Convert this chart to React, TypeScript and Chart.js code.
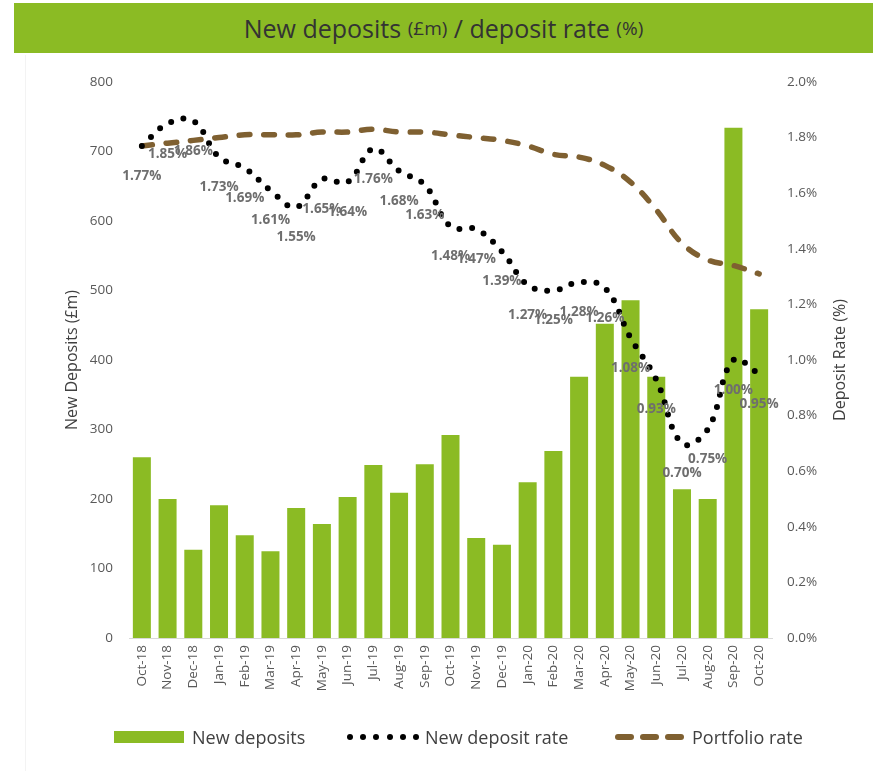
import React, { useEffect, useRef } from 'react';
import { Chart, registerables } from 'chart.js';

Chart.register(...registerables);

const months = [
  'Oct-18', 'Nov-18', 'Dec-18', 'Jan-19', 'Feb-19', 'Mar-19', 'Apr-19', 'May-19', 'Jun-19',
  'Jul-19', 'Aug-19', 'Sep-19', 'Oct-19', 'Nov-19', 'Dec-19', 'Jan-20', 'Feb-20', 'Mar-20',
  'Apr-20', 'May-20', 'Jun-20', 'Jul-20', 'Aug-20', 'Sep-20', 'Oct-20',
];

const newDeposits = [
  260, 200, 127, 191, 148, 125, 187, 164, 203, 249, 209, 250, 292,
  144, 134, 224, 269, 376, 452, 486, 376, 214, 200, 734, 473,
];

const newDepositRate = [
  1.77, 1.85, 1.86, 1.73, 1.69, 1.61, 1.55, 1.65, 1.64, 1.76, 1.68, 1.63, 1.48,
  1.47, 1.39, 1.27, 1.25, 1.28, 1.26, 1.08, 0.93, 0.70, 0.75, 1.00, 0.95,
];

const portfolioRate = [
  1.77, 1.78, 1.79, 1.80, 1.81, 1.81, 1.81, 1.82, 1.82, 1.83, 1.82, 1.82, 1.81,
  1.80, 1.79, 1.77, 1.74, 1.73, 1.70, 1.64, 1.54, 1.42, 1.36, 1.34, 1.31,
];

const GREEN = '#8BBB24';
const BROWN = '#7F6031';
const FONT = '"Open Sans", "Noto Sans", sans-serif';

const overlayPlugin = {
  id: 'overlayText',
  afterDatasetsDraw(chart: any) {
    const ctx = chart.ctx;
    const meta = chart.getDatasetMeta(1);
    ctx.save();
    ctx.font = `bold 13.5px ${FONT}`;
    ctx.fillStyle = '#6E6E6E';
    ctx.textAlign = 'center';
    ctx.textBaseline = 'middle';
    meta.data.forEach((el: any, i: number) => {
      ctx.fillText(newDepositRate[i].toFixed(2) + '%', el.x, el.y + 30);
    });
    const area = chart.chartArea;
    ctx.font = `16px ${FONT}`;
    ctx.fillStyle = '#404040';
    ctx.translate(840, (area.top + area.bottom) / 2);
    ctx.rotate(-Math.PI / 2);
    ctx.fillText('Deposit Rate (%)', 0, 0);
    ctx.restore();
  },
};

export default function App() {
  const canvasRef = useRef<HTMLCanvasElement | null>(null);

  useEffect(() => {
    if (!canvasRef.current) return;
    const chart = new Chart(canvasRef.current, {
      type: 'bar',
      data: {
        labels: months,
        datasets: [
          {
            type: 'bar',
            label: 'New deposits',
            data: newDeposits,
            backgroundColor: GREEN,
            yAxisID: 'y',
            order: 2,
            categoryPercentage: 1,
            barPercentage: 0.7,
          },
          {
            type: 'line',
            label: 'New deposit rate',
            data: newDepositRate,
            borderColor: '#000000',
            borderWidth: 6,
            borderDash: [0, 12.7],
            borderCapStyle: 'round',
            pointRadius: 0,
            tension: 0.4,
            yAxisID: 'y1',
            order: 0,
          },
          {
            type: 'line',
            label: 'Portfolio rate',
            data: portfolioRate,
            borderColor: BROWN,
            borderWidth: 5.5,
            borderDash: [10.5, 14],
            borderCapStyle: 'round',
            pointRadius: 0,
            tension: 0.4,
            yAxisID: 'y1',
            order: 1,
          },
        ] as any,
      },
      options: {
        responsive: false,
        animation: false,
        devicePixelRatio: 1,
        layout: { padding: { top: 82, left: 63, right: 30, bottom: 0 } },
        plugins: {
          legend: { display: false },
          tooltip: { enabled: false },
          title: { display: false },
        },
        scales: {
          x: {
            grid: { display: false, drawTicks: false },
            border: { display: true, color: '#D9D9D9', width: 1 },
            ticks: {
              color: '#595959',
              font: { family: FONT, size: 13.5 },
              minRotation: 90,
              maxRotation: 90,
              padding: 7,
              autoSkip: false,
            },
            afterFit(scale: any) {
              scale.height = 133;
            },
          },
          y: {
            position: 'left',
            min: 0,
            max: 800,
            grid: { display: false, drawTicks: false },
            border: { display: false },
            ticks: {
              stepSize: 100,
              color: '#595959',
              font: { family: FONT, size: 13.5 },
              padding: 16,
            },
            title: {
              display: true,
              text: 'New Deposits (£m)',
              color: '#404040',
              font: { family: FONT, size: 16 },
              padding: { top: 0, bottom: 0 },
            },
            afterFit(scale: any) {
              scale.width = 66;
            },
          },
          y1: {
            position: 'right',
            min: 0,
            max: 2,
            grid: { display: false, drawTicks: false },
            border: { display: false },
            ticks: {
              stepSize: 0.2,
              color: '#595959',
              font: { family: FONT, size: 13.5 },
              padding: 15,
              callback: (v: any) => Number(v).toFixed(1) + '%',
            },
            afterFit(scale: any) {
              scale.width = 77;
            },
          },
        },
      } as any,
      plugins: [overlayPlugin],
    });
    return () => chart.destroy();
  }, []);

  const legendText: React.CSSProperties = {
    position: 'absolute',
    top: 725,
    height: 24,
    lineHeight: '24px',
    fontFamily: FONT,
    fontSize: 18,
    color: '#404040',
    whiteSpace: 'nowrap',
  };

  const dots = [0, 1, 2, 3, 4, 5];
  const dashes = [0, 1, 2];

  return (
    <div style={{ position: 'absolute', left: 0, top: 0, width: 879, height: 771, background: '#FFFFFF' }}>
      <canvas
        ref={canvasRef}
        width={879}
        height={771}
        style={{ position: 'absolute', left: 0, top: 0, width: 879, height: 771 }}
      />
      <div style={{ position: 'absolute', left: 25, top: 55, width: 1, height: 716, background: '#F3F3F3' }} />
      <div
        style={{
          position: 'absolute',
          left: 14,
          top: 3,
          width: 859,
          height: 50,
          background: GREEN,
          display: 'flex',
          alignItems: 'center',
          justifyContent: 'center',
          fontFamily: FONT,
          fontSize: 25,
          color: '#333333',
          whiteSpace: 'pre',
        }}
      >
        <span>New deposits </span>
        <span style={{ fontSize: 19 }}>(£m)</span>
        <span> / deposit rate </span>
        <span style={{ fontSize: 19 }}>(%)</span>
      </div>
      <div style={{ position: 'absolute', left: 114, top: 731, width: 70, height: 12, background: GREEN }} />
      <div style={{ ...legendText, left: 192 }}>New deposits</div>
      {dots.map((i) => (
        <div
          key={'d' + i}
          style={{
            position: 'absolute',
            left: 347 + i * 13.2,
            top: 734,
            width: 6,
            height: 6,
            borderRadius: 3,
            background: '#000000',
          }}
        />
      ))}
      <div style={{ ...legendText, left: 425 }}>New deposit rate</div>
      {dashes.map((i) => (
        <div
          key={'p' + i}
          style={{
            position: 'absolute',
            left: 615 + i * 25,
            top: 734,
            width: 19,
            height: 6,
            borderRadius: 3,
            background: BROWN,
          }}
        />
      ))}
      <div style={{ ...legendText, left: 692 }}>Portfolio rate</div>
    </div>
  );
}
